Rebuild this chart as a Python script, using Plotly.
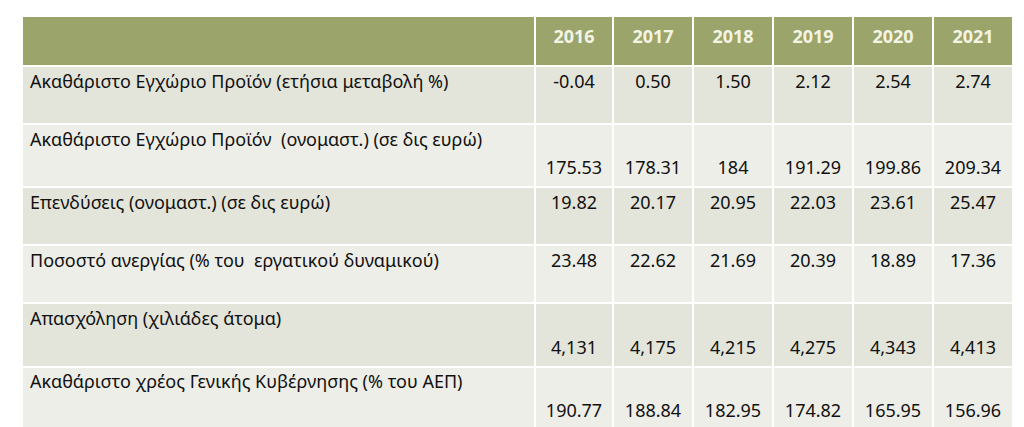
import plotly.graph_objects as go

years = ["2016", "2017", "2018", "2019", "2020", "2021"]
labels = [
    "Ακαθάριστο Εγχώριο Προϊόν (ετήσια μεταβολή %)",
    "Ακαθάριστο Εγχώριο Προϊόν  (ονομαστ.) (σε δις ευρώ)",
    "Επενδύσεις (ονομαστ.) (σε δις ευρώ)",
    "Ποσοστό ανεργίας (% του  εργατικού δυναμικού)",
    "Απασχόληση (χιλιάδες άτομα)",
    "Ακαθάριστο χρέος Γενικής Κυβέρνησης (% του ΑΕΠ)",
]
gdp_growth = ["-0.04", "0.50", "1.50", "2.12", "2.54", "2.74"]
gdp_nominal = ["175.53", "178.31", "184", "191.29", "199.86", "209.34"]
investment = ["19.82", "20.17", "20.95", "22.03", "23.61", "25.47"]
unemployment = ["23.48", "22.62", "21.69", "20.39", "18.89", "17.36"]
employment = ["4,131", "4,175", "4,215", "4,275", "4,343", "4,413"]
debt = ["190.77", "188.84", "182.95", "174.82", "165.95", "156.96"]

rows = [gdp_growth, gdp_nominal, investment, unemployment, employment, debt]
lowered = [False, True, False, False, True, True]
cols = [labels]
for j in range(len(years)):
    cols.append([("&nbsp;<br>" if lowered[i] else "") + rows[i][j] for i in range(len(rows))])

row_fill = ["#e4e5da" if i % 2 == 0 else "#eeeee8" for i in range(len(rows))]

fig = go.Figure(go.Table(
    domain=dict(x=[14/1024, 1005/1024], y=[0, 419/427]),
    columnwidth=[513, 78, 80, 80, 80, 80, 80],
    header=dict(values=[""] + ["<b>%s</b>" % y for y in years],
                fill_color="#9ba56b", line=dict(color="white", width=2),
                align="center", height=50,
                font=dict(family="Noto Sans", size=18, color="#f4f4e6")),
    cells=dict(values=cols,
               fill_color=[row_fill] * 7,
               line=dict(color="white", width=2),
               align=["left"] + ["center"] * 6, height=58,
               font=dict(family="Noto Sans", size=18, color="#111111")),
))
fig.update_layout(width=1024, height=427, margin=dict(l=0, r=0, t=0, b=0),
                  paper_bgcolor="white")
fig.write_html("out.html")
